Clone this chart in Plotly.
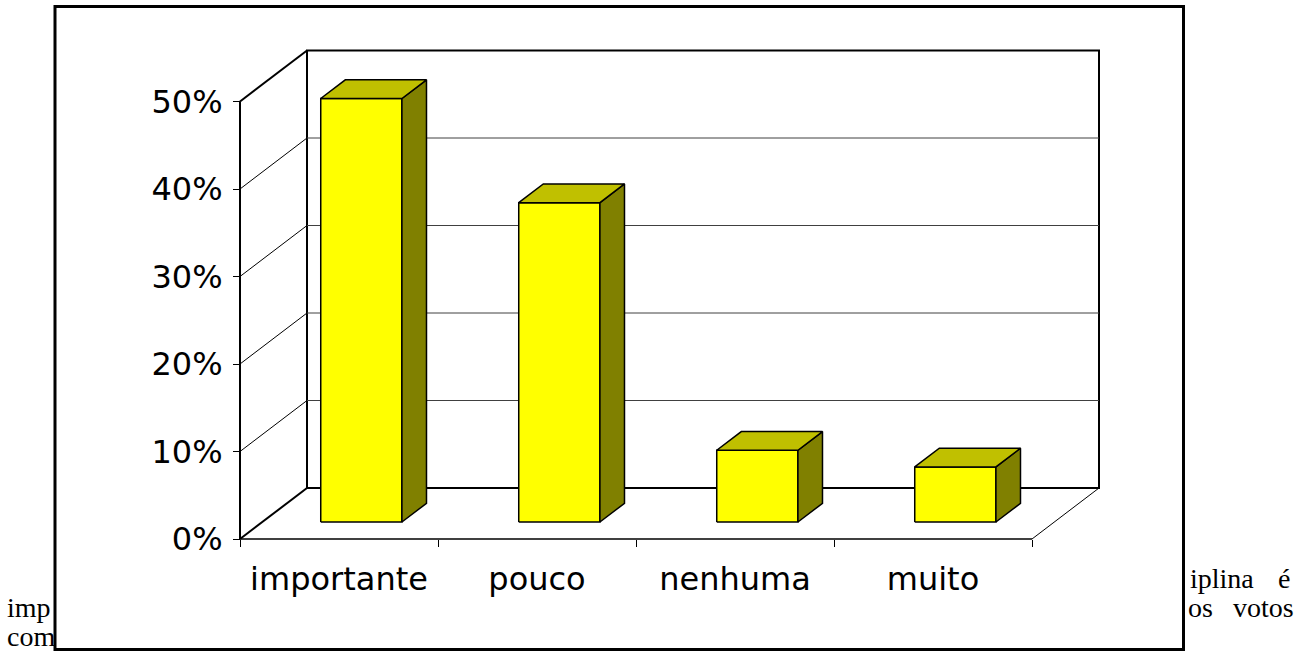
import plotly.graph_objects as go

# ---- data -----------------------------------------------------------------
categories = ["importante", "pouco", "nenhuma", "muito"]
percent = [48.4, 36.5, 8.2, 6.3]
y_tick_values = [0, 10, 20, 30, 40, 50]
y_tick_text = ["0%", "10%", "20%", "30%", "40%", "50%"]

# ---- page / projection settings ---------------------------------------------
W, H = 1305, 652
FRONT_LEFT_PX = 240      # pixel x of category 0 on the front plane
CAT_PX = 198             # pixels per category slot
FLOOR_PX = 539           # pixel y of 0% on the front plane
PCT_PX = 8.75            # pixels per percentage point
DX = 67 / CAT_PX         # depth offset in category units (full depth)
DY = 51 / PCT_PX         # depth offset in percent units (full depth)
Y_MAX = 50               # top of the value walls
BAR_HALF = 0.205         # half bar width in category units
BAR_D0, BAR_D1 = 1 / 3, 0.70   # bar depth span (fraction of wall depth)

FRONT = "#FFFF00"
TOP = "#C0C000"
SIDE = "#808000"

x_range = [-FRONT_LEFT_PX / CAT_PX, (W - FRONT_LEFT_PX) / CAT_PX]
y_range = [-(H - FLOOR_PX) / PCT_PX, FLOOR_PX / PCT_PX]
n = len(categories)


def P(x, v, d):
    """Oblique projection: category position x, value v, depth d (0..1)."""
    return x + d * DX, v + d * DY


fig = go.Figure()


def poly(points, fill=None, color="black", width=1.5):
    xs = [p[0] for p in points]
    ys = [p[1] for p in points]
    if fill:
        xs.append(xs[0])
        ys.append(ys[0])
    fig.add_trace(go.Scatter(
        x=xs, y=ys, mode="lines",
        fill="toself" if fill else None,
        fillcolor=fill,
        line=dict(color=color, width=width),
        hoverinfo="skip", showlegend=False,
    ))


# back wall
poly([P(0, 0, 1), P(n, 0, 1), P(n, Y_MAX, 1), P(0, Y_MAX, 1)],
     fill="white", width=2)
for v in y_tick_values[1:-1]:
    poly([P(0, v, 1), P(n, v, 1)], color="#404040", width=1)

# side wall gridlines and edges
for v in y_tick_values[1:-1]:
    poly([P(0, v, 0), P(0, v, 1)], width=1)
poly([P(0, Y_MAX, 0), P(0, Y_MAX, 1)], width=2)
poly([P(0, 0, 0), P(0, Y_MAX, 0)], width=2)

# floor
poly([P(0, 0, 0), P(0, 0, 1)], width=2)
poly([P(0, 0, 0), P(n, 0, 0)], width=1.5)
poly([P(n, 0, 0), P(n, 0, 1)], width=1)

# bars
for i, v in enumerate(percent):
    c = i + 0.5
    x0, x1 = c - BAR_HALF, c + BAR_HALF
    poly([P(x0, 0, BAR_D0), P(x1, 0, BAR_D0), P(x1, v, BAR_D0), P(x0, v, BAR_D0)],
         fill=FRONT)
    poly([P(x1, 0, BAR_D0), P(x1, 0, BAR_D1), P(x1, v, BAR_D1), P(x1, v, BAR_D0)],
         fill=SIDE)
    poly([P(x0, v, BAR_D0), P(x1, v, BAR_D0), P(x1, v, BAR_D1), P(x0, v, BAR_D1)],
         fill=TOP)

axis_font = dict(family="DejaVu Sans", size=32, color="black")

fig.update_xaxes(
    range=x_range, domain=[0, 1], anchor="free",
    position=(H - FLOOR_PX) / H,
    tickmode="array", tickvals=[i + 0.5 for i in range(n)], ticktext=categories,
    ticks="", tickfont=axis_font, ticklabelstandoff=18,
    minor=dict(tickmode="array", tickvals=list(range(n + 1)), ticks="outside",
               ticklen=7, tickwidth=1, tickcolor="black", showgrid=False),
    showgrid=False, zeroline=False, showline=False,
)
fig.update_yaxes(
    range=y_range, domain=[0, 1], anchor="free",
    position=FRONT_LEFT_PX / W,
    tickmode="array", tickvals=y_tick_values, ticktext=y_tick_text,
    ticks="outside", ticklen=7, tickwidth=1, tickcolor="black",
    tickfont=axis_font, ticklabelstandoff=4,
    showgrid=False, zeroline=False, showline=False,
)

# chart frame
fig.add_shape(type="rect", xref="paper", yref="paper",
              x0=55 / W, x1=1183.5 / W, y0=1 - 649.5 / H, y1=1 - 6.5 / H,
              line=dict(color="black", width=3), layer="above")

# surrounding document text
body_font = dict(family="Liberation Serif", size=28, color="black")
doc_text = [
    ("iplina", 1188, 578, "left"),
    ("é", 1292, 578, "right"),
    ("imp", 5, 607, "left"),
    ("os", 1186, 607, "left"),
    ("votos", 1296, 607, "right"),
    ("com", 5, 636, "left"),
]
for txt, px, py, anchor in doc_text:
    fig.add_annotation(text=txt, x=px / W, y=1 - py / H, xref="paper", yref="paper",
                       xanchor=anchor, yanchor="middle", showarrow=False,
                       font=body_font)

fig.update_layout(
    width=W, height=H,
    margin=dict(l=0, r=0, t=0, b=0),
    paper_bgcolor="white", plot_bgcolor="white",
    showlegend=False,
)

fig.write_html("out.html")
